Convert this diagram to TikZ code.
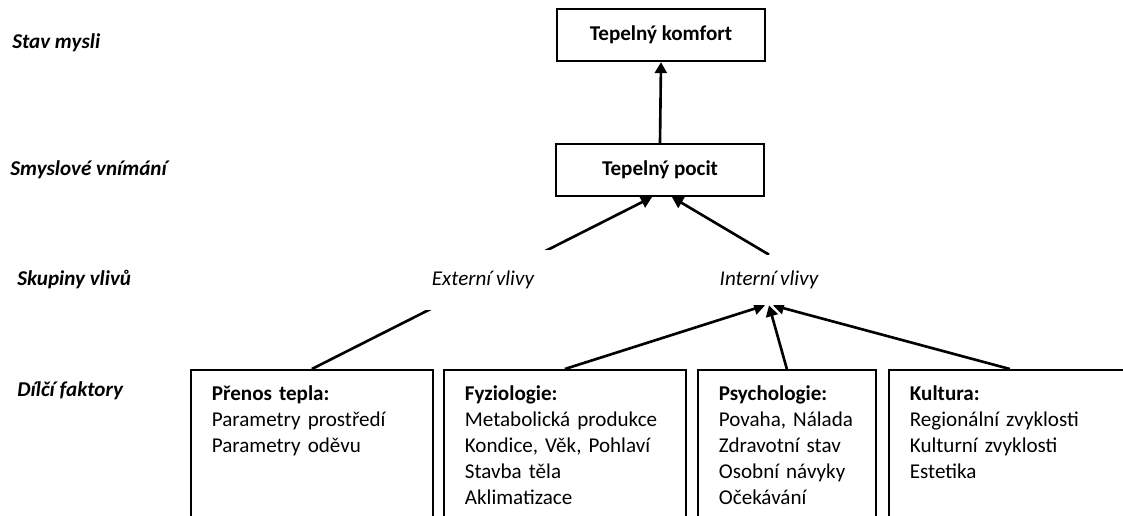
\documentclass[tikz,border=0pt]{standalone}
\usepackage{fontspec}
\setmainfont{Carlito}
\usetikzlibrary{arrows.meta, backgrounds}

\begin{document}
\fontsize{12}{14.7}\selectfont
\begin{tikzpicture}[
    x=0.02cm, y=-0.02cm,
    >={Triangle[length=0.22cm, width=0.24cm]},
    box/.style={rectangle, draw, line width=1pt, minimum width=4.15cm, minimum height=1.05cm, font=\bfseries},
    tier/.style={anchor=west, inner xsep=0pt, font=\bfseries\itshape},
    influence/.style={fill=white, minimum width=2.8cm, minimum height=1cm, font=\itshape},
    factor/.style={rectangle, draw, line width=1pt, anchor=north west, align=left, text width=#1, inner xsep=0.42cm, inner ysep=0.17cm, text height=0.45cm, text depth=4cm},
    line/.style={draw, ->, line width=1.5pt}
]
\useasboundingbox (0,0) rectangle (1123,515);
\clip (0,0) rectangle (1123,515);

% Levels
\node[tier] (mind) at (12,43) {Stav mysli};
\node[tier] (sense) at (10,170) {Smyslové vnímání};
\node[tier] (groups) at (17,280) {Skupiny vlivů};
\node[tier] (factors) at (17,391) {Dílčí faktory};

% Nodes
\node[box] (komfort) at (661,35) {Tepelný komfort};
\node[box] (pocit) at (660,170) {Tepelný pocit};

\node[influence, minimum height=1.2cm] (ext) at (483,280) {Externí vlivy};
\node[influence] (int) at (769,280) {Interní vlivy};

\node[factor=4cm] (prenos) at (190,369) {\textbf{Přenos tepla:}\\Parametry prostředí\\Parametry oděvu};
\node[factor=4cm] (fyzio) at (443,369) {\textbf{Fyziologie:}\\Metabolická produkce\\Kondice, Věk, Pohlaví\\Stavba těla\\Aklimatizace};
\node[factor=2.72cm] (psycho) at (697,369) {\textbf{Psychologie:}\\Povaha, Nálada\\Zdravotní stav\\Osobní návyky\\Očekávání};
\node[factor=4cm] (kultura) at (888,369) {\textbf{Kultura:}\\Regionální zvyklosti\\Kulturní zvyklosti\\Estetika};

% Edges
\begin{scope}[on background layer]
\draw[line] (pocit.north) -- (komfort.south);
\draw[line] (prenos.north) -- ([xshift=-0.16cm]pocit.south);
\draw[line] (int.north) -- ([xshift=0.24cm]pocit.south);
\draw[line] (fyzio.north) -- ([xshift=-0.08cm]int.south);
\draw[line] (psycho.north) -- (int.south);
\draw[line] (kultura.north) -- ([xshift=0.08cm]int.south);
\end{scope}

\end{tikzpicture}
\end{document}
